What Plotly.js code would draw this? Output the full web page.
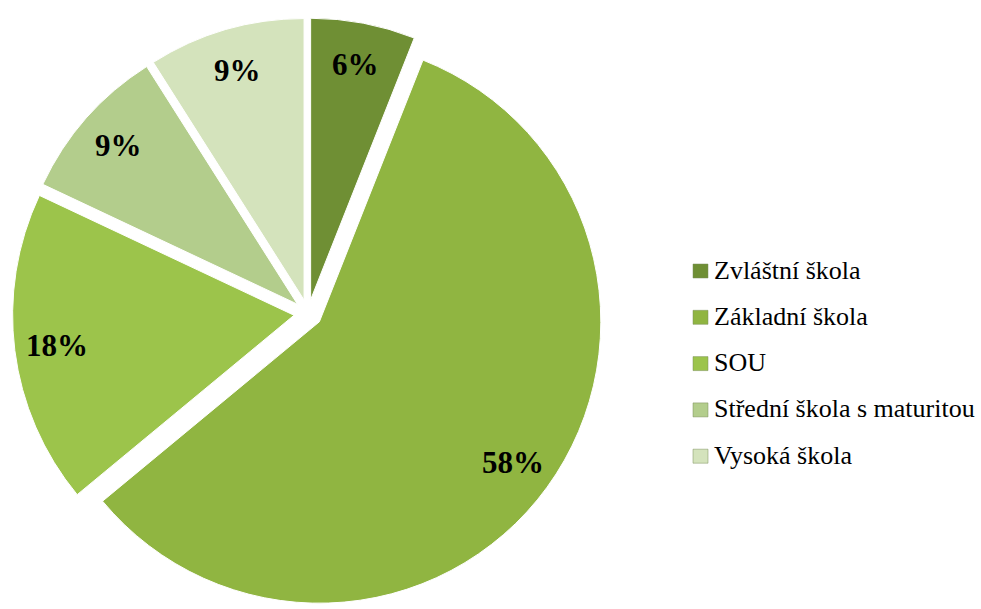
<!DOCTYPE html>
<html>
<head>
<meta charset="utf-8">
<script src="https://cdn.plot.ly/plotly-3.0.1.min.js"></script>
<style>html,body{margin:0;padding:0;background:#fff;}#chart{width:981px;height:609px;}</style>
</head>
<body>
<div id="chart"></div>
<script>
const categories = ["Zvláštní škola", "Základní škola", "SOU", "Střední škola s maturitou", "Vysoká škola"];
const values = [6, 58, 18, 9, 9];
const colors = ["#6f8f34", "#90b541", "#9cc44b", "#b3cd8c", "#d4e3bc"];

const W = 981, H = 609;
const SERIF = "'Times New Roman', 'Liberation Serif', 'DejaVu Serif', serif";
const pullFrac = 0.05;
// pie domain in pixels (layout only)
const dom = { x0: 11, x1: 605, y0: 18, y1: 609 };

const trace = {
  type: "pie",
  labels: categories,
  values: values,
  sort: false,
  direction: "clockwise",
  rotation: 0,
  pull: values.map(() => pullFrac),
  marker: { colors: colors, line: { color: "#ffffff", width: 1 } },
  textinfo: "none",
  domain: { x: [dom.x0 / W, dom.x1 / W], y: [1 - dom.y1 / H, 1 - dom.y0 / H] },
  hoverinfo: "label+percent",
  showlegend: false
};

// slice percentage labels placed along each slice's mid-angle
const total = values.reduce((a, b) => a + b, 0);
const cx = (dom.x0 + dom.x1) / 2, cy = (dom.y0 + dom.y1) / 2;
const r = Math.min(dom.x1 - dom.x0, dom.y1 - dom.y0) / 2 / (1 + pullFrac);
let cum = 0;
const sliceLabels = values.map((v) => {
  const mid = (cum + v / 2) / total * 2 * Math.PI;
  cum += v;
  const d = r * (0.85 + pullFrac);
  const px = cx + d * Math.sin(mid), py = cy - d * Math.cos(mid);
  return {
    xref: "paper", yref: "paper", x: px / W, y: 1 - py / H,
    xanchor: "center", yanchor: "middle", showarrow: false,
    text: "<b>" + Math.round(v / total * 100) + "%</b>",
    font: { family: SERIF, size: 31, color: "#000000" }
  };
});

const legendY0 = 270, legendStep = 46.3, legendX = 712;
const legendText = categories.map((c, i) => ({
  xref: "paper", yref: "paper",
  x: legendX / W, y: 1 - (legendY0 + i * legendStep) / H,
  xanchor: "left", yanchor: "middle", showarrow: false,
  text: c,
  font: { family: SERIF, size: 26, color: "#000000" }
}));
const legendMarks = categories.map((c, i) => ({
  type: "rect", xref: "paper", yref: "paper",
  x0: 693 / W, x1: 708 / W,
  y0: 1 - (legendY0 + i * legendStep + 8) / H, y1: 1 - (legendY0 + i * legendStep - 6) / H,
  fillcolor: colors[i], line: { color: "#7a8f5a", width: 0.5 }
}));

const layout = {
  width: W, height: H,
  margin: { l: 0, r: 0, t: 0, b: 0 },
  paper_bgcolor: "#ffffff",
  font: { family: SERIF, color: "#000000" },
  showlegend: false,
  annotations: sliceLabels.concat(legendText),
  shapes: legendMarks
};

Plotly.newPlot("chart", [trace], layout, { displayModeBar: false, staticPlot: true });
</script>
</body>
</html>
